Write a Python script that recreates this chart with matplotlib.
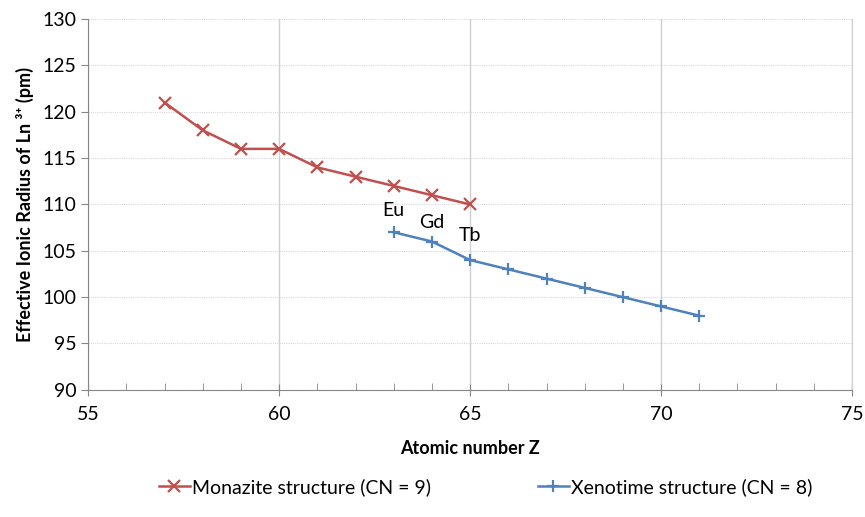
import numpy as np
import matplotlib
matplotlib.use('Agg')
import matplotlib.pyplot as plt
from matplotlib.ticker import MultipleLocator

plt.rcParams['font.family'] = ['Lato', 'DejaVu Sans']

# data
z_mon = [57, 58, 59, 60, 61, 62, 63, 64, 65]
r_mon = [121, 118, 116, 116, 114, 113, 112, 111, 110]
z_xen = [63, 64, 65, 66, 67, 68, 69, 70, 71]
r_xen = [107, 106, 104, 103, 102, 101, 100, 99, 98]
labels = ['Eu', 'Gd', 'Tb']
label_z = [63, 64, 65]
label_y = [109.3, 108.1, 106.6]

red = '#C0504D'
blue = '#4F81BD'
gray = '#868686'

fig = plt.figure(figsize=(8.65, 5.17), dpi=100)
ax = fig.add_axes([0.102, 0.246, 0.883, 0.717])

ax.plot(z_mon, r_mon, color=red, lw=1.8, marker='x', ms=8, mew=1.6,
        label='Monazite structure (CN = 9)')
ax.plot(z_xen, r_xen, color=blue, lw=1.8, marker='+', ms=9, mew=1.6,
        label='Xenotime structure (CN = 8)')

for t, xz, yy in zip(labels, label_z, label_y):
    ax.text(xz, yy, t, ha='center', va='center', fontsize=14, color='black')

ax.set_xlim(55, 75)
ax.set_ylim(90, 130)
ax.xaxis.set_major_locator(MultipleLocator(5))
ax.xaxis.set_minor_locator(MultipleLocator(1))
ax.yaxis.set_major_locator(MultipleLocator(5))

ax.grid(axis='x', which='major', color='#d0d0d0', lw=1)
ax.grid(axis='y', which='major', color='#d8d8d8', lw=0.8, ls=(0, (1, 1)))
ax.set_axisbelow(True)

ax.spines['top'].set_visible(False)
ax.spines['right'].set_color('#d0d0d0')
ax.spines['left'].set_color(gray)
ax.spines['bottom'].set_color(gray)

ax.tick_params(axis='x', which='major', direction='inout', length=8, color=gray,
               labelsize=14, pad=8)
ax.tick_params(axis='x', which='minor', direction='in', length=5, color=gray)
ax.tick_params(axis='y', which='major', direction='out', length=5, color=gray,
               labelsize=14)

ax.set_xlabel('Atomic number Z', fontsize=13, fontweight='bold', labelpad=12)
ax.set_ylabel('Effective Ionic Radius of Ln ³⁺ (pm)', fontsize=13,
              fontweight='bold', labelpad=6)

fig.legend(loc='center', bbox_to_anchor=(0.561, 0.058), ncol=2, frameon=False,
           fontsize=14, handlelength=1.6, handletextpad=0.1, columnspacing=5.5)

fig.savefig('out.png', dpi=100)
